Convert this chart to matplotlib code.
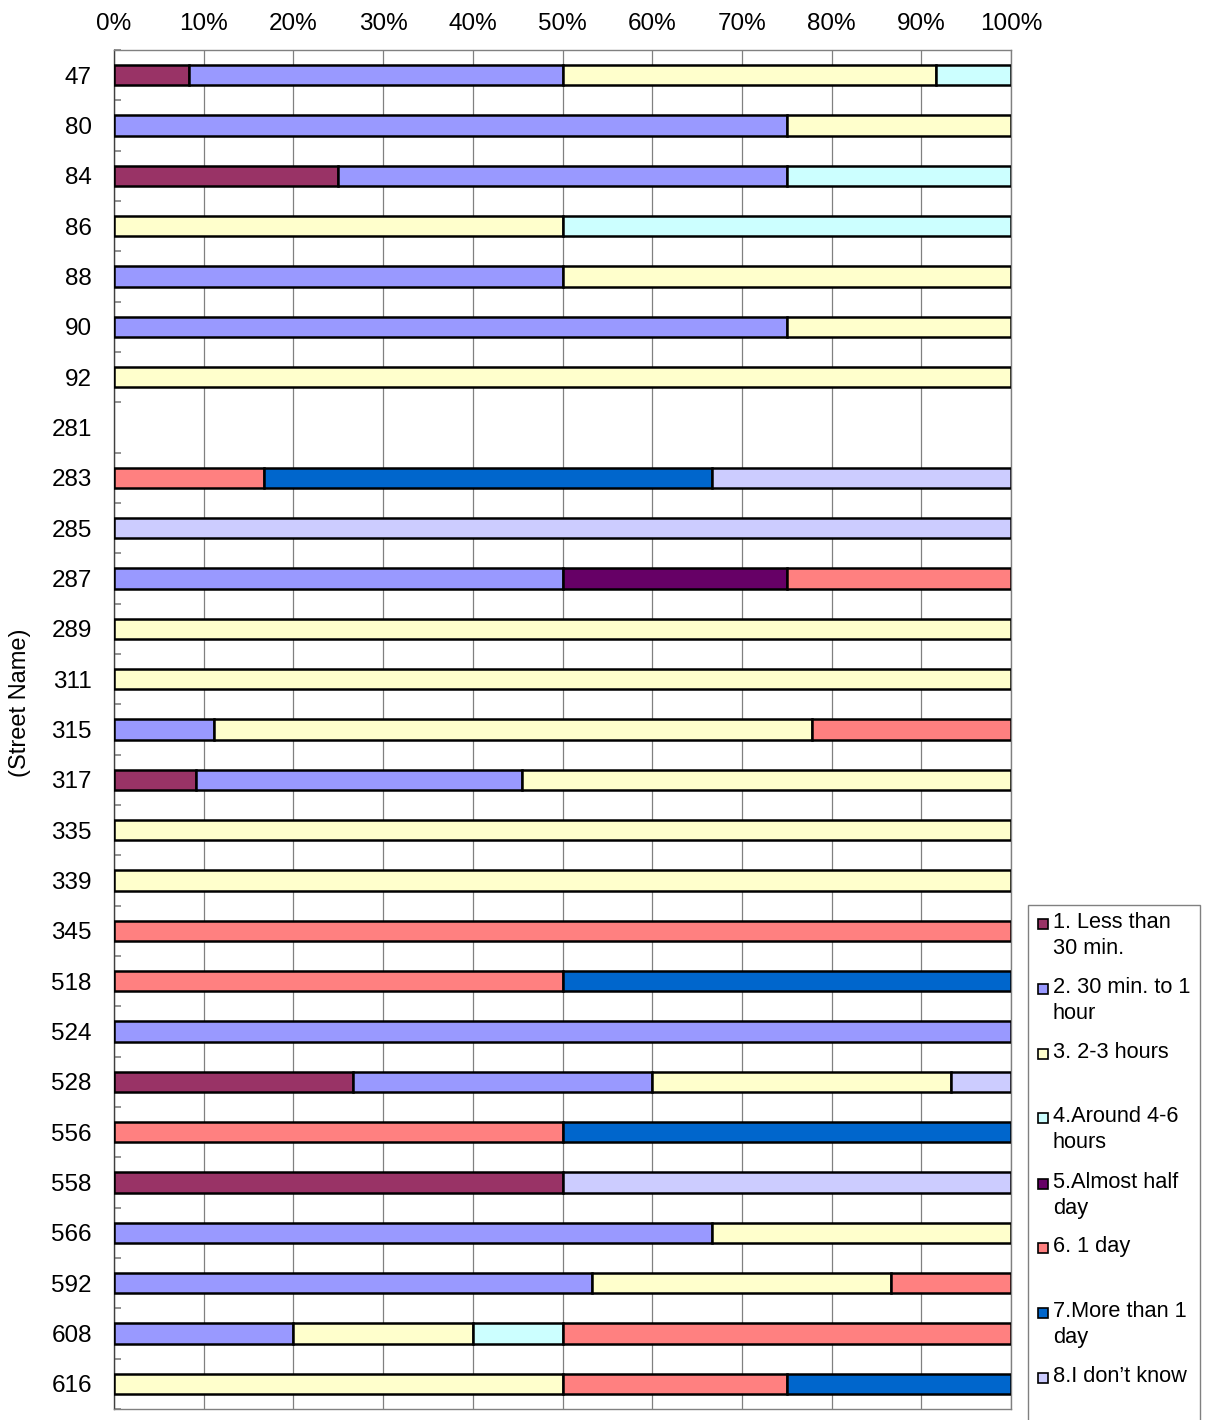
import matplotlib
matplotlib.use("Agg")
import matplotlib.pyplot as plt
from matplotlib.patches import Rectangle
from matplotlib.ticker import FixedLocator, PercentFormatter
import numpy as np

plt.rcParams['font.family'] = ['Liberation Sans', 'DejaVu Sans']

streets = ["47", "80", "84", "86", "88", "90", "92", "281", "283", "285", "287",
           "289", "311", "315", "317", "335", "339", "345", "518", "524", "528",
           "556", "558", "566", "592", "608", "616"]

series_names = ["1. Less than\n30 min.", "2. 30 min. to 1\nhour", "3. 2-3 hours",
                "4.Around 4-6\nhours", "5.Almost half\nday", "6. 1 day",
                "7.More than 1\nday", "8.I don\u2019t know"]
colors = ["#993366", "#9999FF", "#FFFFCC", "#CCFFFF", "#660066", "#FF8080",
          "#0066CC", "#CCCCFF"]

less_30 = [8.33, 0, 25, 0, 0, 0, 0, 0, 0, 0, 0, 0, 0, 0, 9.09, 0, 0, 0, 0, 0,
           26.67, 0, 50, 0, 0, 0, 0]
min30_1h = [41.67, 75, 50, 0, 50, 75, 0, 0, 0, 0, 50, 0, 0, 11.11, 36.36, 0, 0,
            0, 0, 100, 33.33, 0, 0, 66.67, 53.33, 20, 0]
h2_3 = [41.67, 25, 0, 50, 50, 25, 100, 0, 0, 0, 0, 100, 100, 66.67, 54.55, 100,
        100, 0, 0, 0, 33.33, 0, 0, 33.33, 33.33, 20, 50]
h4_6 = [8.33, 0, 25, 50, 0, 0, 0, 0, 0, 0, 0, 0, 0, 0, 0, 0, 0, 0, 0, 0, 0, 0,
        0, 0, 0, 10, 0]
half_day = [0, 0, 0, 0, 0, 0, 0, 0, 0, 0, 25, 0, 0, 0, 0, 0, 0, 0, 0, 0, 0, 0,
            0, 0, 0, 0, 0]
one_day = [0, 0, 0, 0, 0, 0, 0, 0, 16.67, 0, 25, 0, 0, 22.22, 0, 0, 0, 100, 50,
           0, 0, 50, 0, 0, 13.33, 50, 25]
more_1day = [0, 0, 0, 0, 0, 0, 0, 0, 50, 0, 0, 0, 0, 0, 0, 0, 0, 0, 50, 0, 0,
             50, 0, 0, 0, 0, 25]
dont_know = [0, 0, 0, 0, 0, 0, 0, 0, 33.33, 100, 0, 0, 0, 0, 0, 0, 0, 0, 0, 0,
             6.67, 0, 50, 0, 0, 0, 0]

series = [less_30, min30_1h, h2_3, h4_6, half_day, one_day, more_1day, dont_know]

W, H = 1205, 1420
fig = plt.figure(figsize=(W / 100, H / 100), dpi=100)
ax_l, ax_r, ax_t, ax_b = 114, 1011, 50, 1409
ax = fig.add_axes([ax_l / W, 1 - ax_b / H, (ax_r - ax_l) / W, (ax_b - ax_t) / H])

y = np.arange(len(streets))
left = np.zeros(len(streets))
for vals, c in zip(series, colors):
    v = np.array(vals, dtype=float)
    m = v > 0
    ax.barh(y[m], v[m], left=left[m], height=0.4, color=c, edgecolor="black",
            linewidth=1.8, zorder=3)
    left += v

ax.set_xlim(0, 100)
ax.set_ylim(len(streets) - 0.5, -0.5)
ax.xaxis.set_major_locator(FixedLocator(np.arange(0, 101, 10)))
ax.xaxis.set_major_formatter(PercentFormatter(decimals=0))
ax.xaxis.tick_top()
ax.tick_params(axis="x", length=0, pad=11, labelsize=17.5)
ax.set_yticks(y)
ax.set_yticklabels(streets)
ax.yaxis.set_minor_locator(FixedLocator(np.arange(-0.5, len(streets), 1)))
ax.tick_params(axis="y", which="major", length=0, pad=16, labelsize=17.5)
ax.tick_params(axis="y", which="minor", length=5, direction="in", color="#808080",
               width=1.2)
ax.grid(axis="x", color="#808080", linewidth=0.9, zorder=0)
ax.set_axisbelow(True)
for s in ax.spines.values():
    s.set_color("#808080")
    s.set_linewidth(1.0)
ax.spines["left"].set_color("#404040")

fig.text(20 / W, 1 - 703 / H, "(Street Name)", rotation=90, ha="center",
         va="center", fontsize=17)

# legend box
fig.patches.append(Rectangle((1028 / W, 1 - 1430 / H), (1200 - 1028) / W,
                             (1430 - 905) / H, transform=fig.transFigure,
                             facecolor="white", edgecolor="#808080", linewidth=1.0))
ys = [924, 989, 1054, 1118, 1184, 1248, 1313, 1378]
for yy, name, c in zip(ys, series_names, colors):
    fig.patches.append(Rectangle((1038 / W, 1 - (yy + 5) / H), 10 / W, 10 / H,
                                 transform=fig.transFigure, facecolor=c,
                                 edgecolor="black", linewidth=1.2))
    fig.text(1053 / W, 1 - (yy - 12) / H, name, ha="left", va="top",
             fontsize=15.7, linespacing=1.3)

fig.savefig("out.png", dpi=100)
